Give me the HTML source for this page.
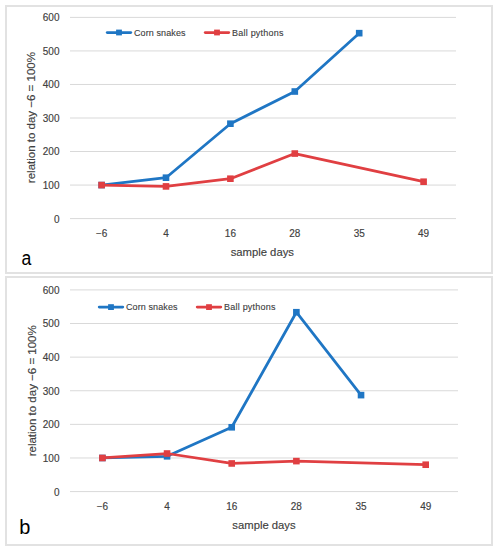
<!DOCTYPE html>
<html><head><meta charset="utf-8"><style>
html,body{margin:0;padding:0;background:#fff;width:497px;height:550px;overflow:hidden}
svg{display:block}
text{font-family:"Liberation Sans",sans-serif}
.lab{font-size:10px;fill:#404040;stroke:#404040;stroke-width:0.15px}
.tit{font-size:11.5px;fill:#404040;stroke:#404040;stroke-width:0.15px}
.leg{font-size:9px;fill:#404040;stroke:#404040;stroke-width:0.12px}
.big{font-size:21px;fill:#000}
</style></head><body>
<svg width="497" height="550" viewBox="0 0 497 550">
<rect width="497" height="550" fill="#fff"/>
<rect x="6" y="6" width="486" height="267" fill="#fff" stroke="#E2E2E2" stroke-width="2"/>
<line x1="70" x2="456" y1="218.60" y2="218.60" stroke="#D9D9D9" stroke-width="1"/>
<text x="59.5" y="222.50" text-anchor="end" class="lab">0</text>
<line x1="70" x2="456" y1="185.07" y2="185.07" stroke="#D9D9D9" stroke-width="1"/>
<text x="59.5" y="188.97" text-anchor="end" class="lab">100</text>
<line x1="70" x2="456" y1="151.53" y2="151.53" stroke="#D9D9D9" stroke-width="1"/>
<text x="59.5" y="155.43" text-anchor="end" class="lab">200</text>
<line x1="70" x2="456" y1="118.00" y2="118.00" stroke="#D9D9D9" stroke-width="1"/>
<text x="59.5" y="121.90" text-anchor="end" class="lab">300</text>
<line x1="70" x2="456" y1="84.47" y2="84.47" stroke="#D9D9D9" stroke-width="1"/>
<text x="59.5" y="88.37" text-anchor="end" class="lab">400</text>
<line x1="70" x2="456" y1="50.93" y2="50.93" stroke="#D9D9D9" stroke-width="1"/>
<text x="59.5" y="54.83" text-anchor="end" class="lab">500</text>
<line x1="70" x2="456" y1="17.40" y2="17.40" stroke="#D9D9D9" stroke-width="1"/>
<text x="59.5" y="21.30" text-anchor="end" class="lab">600</text>
<text x="101.60" y="237.2" text-anchor="middle" class="lab">−6</text>
<text x="166.00" y="237.2" text-anchor="middle" class="lab">4</text>
<text x="230.40" y="237.2" text-anchor="middle" class="lab">16</text>
<text x="294.80" y="237.2" text-anchor="middle" class="lab">28</text>
<text x="359.20" y="237.2" text-anchor="middle" class="lab">35</text>
<text x="423.60" y="237.2" text-anchor="middle" class="lab">49</text>
<text x="262.3" y="255.8" text-anchor="middle" textLength="63.3" lengthAdjust="spacingAndGlyphs" class="tit">sample days</text>
<text transform="translate(35.0,117.6) rotate(-90)" text-anchor="middle" class="tit">relation to day −6 = 100%</text>
<polyline points="101.60,185.07 166.00,177.69 230.40,123.70 294.80,91.51 359.20,33.16" fill="none" stroke="#1F76C4" stroke-width="2.75" stroke-linejoin="round"/>
<rect x="98.30" y="181.77" width="6.6" height="6.6" fill="#1F76C4"/>
<rect x="162.70" y="174.39" width="6.6" height="6.6" fill="#1F76C4"/>
<rect x="227.10" y="120.40" width="6.6" height="6.6" fill="#1F76C4"/>
<rect x="291.50" y="88.21" width="6.6" height="6.6" fill="#1F76C4"/>
<rect x="355.90" y="29.86" width="6.6" height="6.6" fill="#1F76C4"/>
<polyline points="101.60,185.07 166.00,186.41 230.40,178.70 294.80,153.55 423.60,181.71" fill="none" stroke="#E03F42" stroke-width="2.75" stroke-linejoin="round"/>
<rect x="98.30" y="181.77" width="6.6" height="6.6" fill="#E03F42"/>
<rect x="162.70" y="183.11" width="6.6" height="6.6" fill="#E03F42"/>
<rect x="227.10" y="175.40" width="6.6" height="6.6" fill="#E03F42"/>
<rect x="291.50" y="150.25" width="6.6" height="6.6" fill="#E03F42"/>
<rect x="420.30" y="178.41" width="6.6" height="6.6" fill="#E03F42"/>
<line x1="107.2" x2="130.8" y1="32.5" y2="32.5" stroke="#1F76C4" stroke-width="2.75" stroke-linecap="round"/>
<rect x="116.10" y="29.60" width="5.8" height="5.8" fill="#1F76C4"/>
<text x="134" y="35.8" textLength="51.5" lengthAdjust="spacing" class="leg">Corn snakes</text>
<line x1="205.2" x2="228.8" y1="32.5" y2="32.5" stroke="#E03F42" stroke-width="2.75" stroke-linecap="round"/>
<rect x="214.10" y="29.60" width="5.8" height="5.8" fill="#E03F42"/>
<text x="232" y="35.8" textLength="51.5" lengthAdjust="spacing" class="leg">Ball pythons</text>
<text transform="translate(21.6,265.2) scale(0.84,1)" class="big">a</text>
<rect x="6" y="277" width="486" height="268" fill="#fff" stroke="#E2E2E2" stroke-width="2"/>
<line x1="70" x2="458" y1="491.60" y2="491.60" stroke="#D9D9D9" stroke-width="1"/>
<text x="59.5" y="495.50" text-anchor="end" class="lab">0</text>
<line x1="70" x2="458" y1="457.98" y2="457.98" stroke="#D9D9D9" stroke-width="1"/>
<text x="59.5" y="461.88" text-anchor="end" class="lab">100</text>
<line x1="70" x2="458" y1="424.37" y2="424.37" stroke="#D9D9D9" stroke-width="1"/>
<text x="59.5" y="428.27" text-anchor="end" class="lab">200</text>
<line x1="70" x2="458" y1="390.75" y2="390.75" stroke="#D9D9D9" stroke-width="1"/>
<text x="59.5" y="394.65" text-anchor="end" class="lab">300</text>
<line x1="70" x2="458" y1="357.13" y2="357.13" stroke="#D9D9D9" stroke-width="1"/>
<text x="59.5" y="361.03" text-anchor="end" class="lab">400</text>
<line x1="70" x2="458" y1="323.52" y2="323.52" stroke="#D9D9D9" stroke-width="1"/>
<text x="59.5" y="327.42" text-anchor="end" class="lab">500</text>
<line x1="70" x2="458" y1="289.90" y2="289.90" stroke="#D9D9D9" stroke-width="1"/>
<text x="59.5" y="293.80" text-anchor="end" class="lab">600</text>
<text x="102.40" y="510.2" text-anchor="middle" class="lab">−6</text>
<text x="167.06" y="510.2" text-anchor="middle" class="lab">4</text>
<text x="231.72" y="510.2" text-anchor="middle" class="lab">16</text>
<text x="296.38" y="510.2" text-anchor="middle" class="lab">28</text>
<text x="361.04" y="510.2" text-anchor="middle" class="lab">35</text>
<text x="425.70" y="510.2" text-anchor="middle" class="lab">49</text>
<text x="264.0" y="528.8" text-anchor="middle" textLength="63.3" lengthAdjust="spacingAndGlyphs" class="tit">sample days</text>
<text transform="translate(36.0,390.8) rotate(-90)" text-anchor="middle" class="tit">relation to day −6 = 100%</text>
<polyline points="102.40,457.98 167.06,456.30 231.72,427.29 296.38,312.22 361.04,395.12" fill="none" stroke="#1F76C4" stroke-width="2.75" stroke-linejoin="round"/>
<rect x="99.10" y="454.68" width="6.6" height="6.6" fill="#1F76C4"/>
<rect x="163.76" y="453.00" width="6.6" height="6.6" fill="#1F76C4"/>
<rect x="228.42" y="423.99" width="6.6" height="6.6" fill="#1F76C4"/>
<rect x="293.08" y="308.92" width="6.6" height="6.6" fill="#1F76C4"/>
<rect x="357.74" y="391.82" width="6.6" height="6.6" fill="#1F76C4"/>
<polyline points="102.40,457.98 167.06,453.51 231.72,463.46 296.38,461.11 425.70,464.71" fill="none" stroke="#E03F42" stroke-width="2.75" stroke-linejoin="round"/>
<rect x="99.10" y="454.68" width="6.6" height="6.6" fill="#E03F42"/>
<rect x="163.76" y="450.21" width="6.6" height="6.6" fill="#E03F42"/>
<rect x="228.42" y="460.16" width="6.6" height="6.6" fill="#E03F42"/>
<rect x="293.08" y="457.81" width="6.6" height="6.6" fill="#E03F42"/>
<rect x="422.40" y="461.41" width="6.6" height="6.6" fill="#E03F42"/>
<line x1="99.2" x2="122.8" y1="307.1" y2="307.1" stroke="#1F76C4" stroke-width="2.75" stroke-linecap="round"/>
<rect x="108.10" y="304.20" width="5.8" height="5.8" fill="#1F76C4"/>
<text x="126" y="310.40000000000003" textLength="51.5" lengthAdjust="spacing" class="leg">Corn snakes</text>
<line x1="197.2" x2="220.8" y1="307.1" y2="307.1" stroke="#E03F42" stroke-width="2.75" stroke-linecap="round"/>
<rect x="206.10" y="304.20" width="5.8" height="5.8" fill="#E03F42"/>
<text x="224" y="310.40000000000003" textLength="51.5" lengthAdjust="spacing" class="leg">Ball pythons</text>
<text transform="translate(19.3,533.8) scale(0.95,1)" class="big">b</text>
</svg>
</body></html>
